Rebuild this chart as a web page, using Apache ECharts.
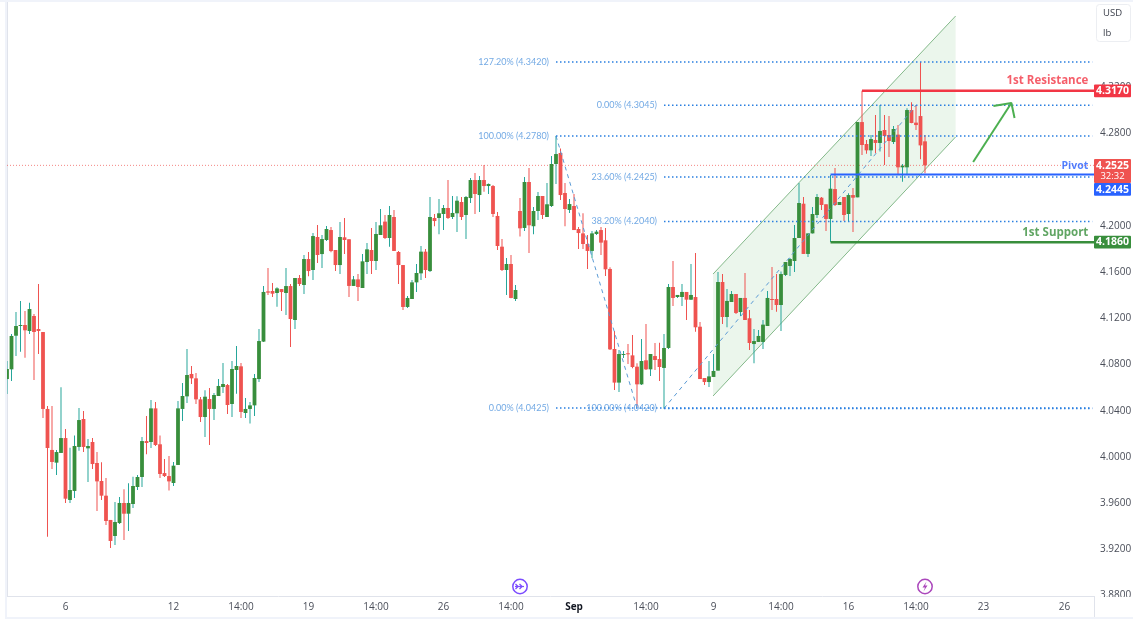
<!DOCTYPE html>
<html>
<head>
<meta charset="utf-8">
<style>
  html, body { margin: 0; padding: 0; background: #fff; }
  #chart { width: 1133px; height: 621px; }
</style>
<script src="https://cdn.jsdelivr.net/npm/echarts@6/dist/echarts.min.js"></script>
</head>
<body>
<div id="chart"></div>
<script>
// open, high, low, close
const candles = [
  [4.0675,4.0831,4.0545,4.0762],[4.0759,4.1065,4.0658,4.1048],[4.1050,4.1255,4.0874,4.1134],[4.1137,4.1351,4.0912,4.1143],
  [4.1143,4.1264,4.0860,4.1097],[4.1091,4.1336,4.1065,4.1281],[4.1221,4.1238,4.0667,4.1082],[4.1108,4.1498,4.0892,4.1091],
  [4.1082,4.1082,4.0338,4.0416],[4.0416,4.0442,3.9310,4.0078],[4.0061,4.0442,3.9896,3.9957],[3.9951,4.0061,3.9844,4.0043],
  [4.0035,4.0603,4.0035,4.0164],[4.0164,4.0242,3.9602,3.9639],[3.9628,4.0081,3.9602,3.9714],[3.9706,4.0187,3.9645,4.0095],
  [4.0087,4.0424,4.0055,4.0320],[4.0329,4.0398,4.0043,4.0087],[4.0075,4.0156,3.9784,4.0095],[4.0130,4.0164,3.9896,3.9939],
  [3.9948,4.0043,3.9532,3.9789],[3.9792,3.9954,3.9628,3.9665],[3.9665,3.9818,3.9411,3.9446],[3.9455,3.9455,3.9212,3.9273],
  [3.9316,3.9610,3.9238,3.9437],[3.9428,3.9654,3.9420,3.9602],[3.9602,3.9720,3.9281,3.9509],[3.9509,3.9772,3.9359,3.9602],
  [3.9593,3.9830,3.9558,3.9749],[3.9740,3.9844,3.9714,3.9827],[3.9827,4.0173,3.9740,4.0138],[4.0138,4.0355,4.0023,4.0121],
  [4.0130,4.0493,4.0078,4.0421],[4.0421,4.0476,4.0095,4.0104],[4.0110,4.0187,3.9818,3.9853],[3.9861,3.9983,3.9827,3.9835],
  [3.9835,4.0009,3.9711,3.9789],[3.9775,3.9957,3.9749,3.9925],[3.9931,4.0485,3.9931,4.0421],[4.0416,4.0641,4.0312,4.0528],
  [4.0525,4.0935,4.0467,4.0710],[4.0719,4.0788,4.0632,4.0681],[4.0681,4.0727,4.0459,4.0499],[4.0499,4.0519,4.0303,4.0346],
  [4.0346,4.0577,4.0173,4.0522],[4.0502,4.0597,4.0104,4.0416],[4.0416,4.0554,4.0320,4.0537],[4.0528,4.0675,4.0528,4.0615],
  [4.0606,4.0814,4.0554,4.0632],[4.0623,4.0632,4.0372,4.0450],[4.0459,4.0831,4.0346,4.0762],[4.0753,4.0961,4.0548,4.0788],
  [4.0785,4.0814,4.0338,4.0390],[4.0381,4.0511,4.0338,4.0416],[4.0416,4.0476,4.0289,4.0447],[4.0447,4.0719,4.0355,4.0684],
  [4.0675,4.1108,4.0649,4.1004],[4.0999,4.1480,4.0996,4.1429],[4.1434,4.1636,4.1403,4.1423],[4.1437,4.1506,4.1385,4.1414],
  [4.1420,4.1469,4.1301,4.1460],[4.1454,4.1454,4.1264,4.1428],[4.1420,4.1636,4.1229,4.1480],[4.1480,4.1498,4.0952,4.1195],
  [4.1186,4.1550,4.1108,4.1550],[4.1550,4.1576,4.1480,4.1498],[4.1489,4.1749,4.1411,4.1714],[4.1714,4.1775,4.1564,4.1610],
  [4.1619,4.1939,4.1532,4.1913],[4.1905,4.2009,4.1680,4.1749],[4.1757,4.1922,4.1636,4.1887],[4.1879,4.2000,4.1870,4.1974],
  [4.1965,4.1991,4.1772,4.1783],[4.1792,4.1792,4.1610,4.1662],[4.1662,4.2035,4.1584,4.1905],[4.1902,4.2069,4.1758,4.1879],
  [4.1885,4.1885,4.1385,4.1481],[4.1481,4.1567,4.1481,4.1538],[4.1538,4.1584,4.1351,4.1472],[4.1463,4.1758,4.1463,4.1694],
  [4.1688,4.1853,4.1584,4.1798],[4.1792,4.1983,4.1584,4.1697],[4.1697,4.2035,4.1619,4.1931],[4.1922,4.2147,4.1922,4.2006],
  [4.2038,4.2095,4.1887,4.1896],[4.1896,4.2173,4.1821,4.2095],[4.2078,4.2139,4.1784,4.1784],[4.1775,4.1784,4.1498,4.1662],
  [4.1662,4.1662,4.1273,4.1299],[4.1299,4.1394,4.1290,4.1377],[4.1368,4.1532,4.1368,4.1512],[4.1512,4.1671,4.1429,4.1593],
  [4.1590,4.1827,4.1532,4.1778],[4.1778,4.1801,4.1550,4.1619],[4.1610,4.2251,4.1602,4.2078],[4.2069,4.2104,4.1998,4.2043],
  [4.2069,4.2234,4.1928,4.2110],[4.2104,4.2182,4.1965,4.2156],[4.2156,4.2398,4.2061,4.2069],[4.2078,4.2260,4.2061,4.2113],
  [4.2110,4.2257,4.1948,4.2219],[4.2208,4.2251,4.2052,4.2078],[4.2095,4.2260,4.1887,4.2251],[4.2242,4.2416,4.2199,4.2398],
  [4.2398,4.2459,4.2104,4.2277],[4.2268,4.2433,4.2121,4.2398],[4.2398,4.2528,4.2297,4.2346],[4.2346,4.2369,4.2277,4.2364],
  [4.2346,4.2355,4.2078,4.2104],[4.2087,4.2121,4.1792,4.1827],[4.1821,4.1887,4.1610,4.1619],[4.1619,4.1723,4.1403,4.1671],
  [4.1671,4.1749,4.1374,4.1377],[4.1368,4.1489,4.1351,4.1446],[4.2130,4.2242,4.1908,4.1980],[4.1983,4.2424,4.1957,4.2381],
  [4.2381,4.2502,4.1766,4.2006],[4.1998,4.2164,4.1928,4.2130],[4.2130,4.2294,4.2052,4.2260],[4.2260,4.2260,4.2061,4.2095],
  [4.2078,4.2372,4.2078,4.2188],[4.2173,4.2606,4.2164,4.2537],[4.2537,4.2780,4.2364,4.2623],[4.2632,4.2670,4.2225,4.2268],
  [4.2286,4.2372,4.1998,4.2147],[4.2139,4.2234,4.2113,4.2190],[4.2173,4.2277,4.1965,4.1965],[4.1974,4.1991,4.1801,4.1939],
  [4.1936,4.2110,4.1801,4.1844],[4.1844,4.1922,4.1628,4.1784],[4.1784,4.1957,4.1720,4.1936],[4.1931,4.1965,4.1922,4.1951],
  [4.1965,4.1991,4.1749,4.1856],[4.1876,4.1983,4.1567,4.1625],[4.1628,4.1642,4.0926,4.0932],[4.0935,4.1091,4.0580,4.0644],
  [4.0644,4.0926,4.0563,4.0892],[4.0886,4.0918,4.0857,4.0892],[4.0898,4.0978,4.0805,4.0892],[4.0880,4.1056,4.0768,4.0779],
  [4.0782,4.0811,4.0436,4.0629],[4.0629,4.1022,4.0623,4.0831],[4.0837,4.1151,4.0753,4.0759],[4.0759,4.0892,4.0701,4.0892],
  [4.0874,4.0987,4.0753,4.0840],[4.0848,4.0990,4.0658,4.0779],[4.0771,4.1065,4.0420,4.0944],[4.0944,4.1498,4.0935,4.1472],
  [4.1472,4.1697,4.1307,4.1377],[4.1385,4.1403,4.1377,4.1403],[4.1385,4.1498,4.1307,4.1429],[4.1429,4.1429,4.1186,4.1362],
  [4.1362,4.1671,4.1359,4.1403],[4.1385,4.1766,4.1085,4.1123],[4.1128,4.1169,4.0675,4.0675],[4.0684,4.0684,4.0623,4.0649],
  [4.0649,4.0831,4.0606,4.0698],[4.0693,4.0892,4.0693,4.0745],[4.0748,4.1602,4.0748,4.1515],[4.1515,4.1584,4.1151,4.1212],
  [4.1212,4.1455,4.1123,4.1351],[4.1342,4.1437,4.1342,4.1411],[4.1411,4.1411,4.1238,4.1247],[4.1255,4.1377,4.1221,4.1377],
  [4.1377,4.1593,4.1186,4.1186],[4.1201,4.1273,4.0926,4.0987],[4.0978,4.1108,4.0811,4.1004],[4.0996,4.1100,4.0996,4.1048],
  [4.0996,4.1186,4.0935,4.1146],[4.1134,4.1437,4.1134,4.1377],[4.1368,4.1645,4.1273,4.1362],[4.1368,4.1584,4.1258,4.1316],
  [4.1316,4.1605,4.1091,4.1584],[4.1576,4.1688,4.1567,4.1688],[4.1654,4.1723,4.1567,4.1714],[4.1697,4.2009,4.1602,4.1896],
  [4.1896,4.2372,4.1896,4.2199],[4.2193,4.2251,4.1758,4.1758],[4.1758,4.1936,4.1732,4.1936],[4.1936,4.2164,4.1936,4.2104],
  [4.2095,4.2277,4.2069,4.2251],[4.2245,4.2251,4.2139,4.2182],[4.2188,4.2188,4.1957,4.2061],[4.2061,4.2442,4.1861,4.2323],
  [4.2320,4.2502,4.2173,4.2182],[4.2182,4.2208,4.2182,4.2208],[4.2251,4.2251,4.2043,4.2095],[4.2104,4.2283,4.2043,4.2268],
  [4.2268,4.2329,4.1948,4.2245],[4.2248,4.2900,4.2248,4.2900],[4.2900,4.3172,4.2615,4.2701],[4.2710,4.2745,4.2626,4.2655],
  [4.2655,4.2788,4.2606,4.2753],[4.2745,4.2961,4.2629,4.2719],[4.2719,4.3048,4.2644,4.2823],[4.2831,4.2961,4.2528,4.2779],
  [4.2788,4.2952,4.2597,4.2736],[4.2727,4.2866,4.2710,4.2840],[4.2791,4.2874,4.2442,4.2508],[4.2508,4.2537,4.2384,4.2522],
  [4.2508,4.3019,4.2442,4.3004],[4.3004,4.3071,4.2889,4.2892],[4.2895,4.3048,4.2831,4.2874],[4.2952,4.3420,4.2577,4.2698],
  [4.2733,4.2788,4.2456,4.2525]
];

const timeTicks = [13, 37, 52, 67, 82, 97, 112, 126, 142, 157, 172, 187, 202, 217, 235];
const timeLabels = ['6', '12', '14:00', '19', '14:00', '26', '14:00', 'Sep', '14:00', '9', '14:00', '16', '14:00', '23', '26'];
const priceTicks = [3.88, 3.92, 3.96, 4.00, 4.04, 4.08, 4.12, 4.16, 4.20, 4.24, 4.28, 4.32];

const fibPrices = [4.3420, 4.2780, 4.0425, 4.3045, 4.2425, 4.2040, 4.0420];
const fibStarts = [122, 122, 122, 146, 146, 146, 146];
const fibTexts = ['127.20% (4.3420)', '100.00% (4.2780)', '0.00% (4.0425)', '0.00% (4.3045)', '23.60% (4.2425)', '38.20% (4.2040)', '100.00% (4.0420)'];

const drop = [[122, 4.2780], [140, 4.0425]];
const rise = [[146, 4.0420], [202, 4.3045]];
const channel = [[156.9, 4.1584], [210.8, 4.3818], [210.8, 4.2771], [156.9, 4.0528]];
const arrowShaft = [[214.7, 4.2554], [223.2, 4.3065]];
const arrowHead = [[219.2, 4.3039], [223.2, 4.3065], [223.9, 4.2935]];

const lastPrice = 4.2525;
const countdown = '32:32';
const resistance = 4.3170;
const pivot = 4.2445;
const support = 4.1860;
const resistanceStart = 190;
const levelStart = 183;

const UP = '#388e3c', UP_WICK = '#26a69a', DOWN = '#ef5350';
const RED = '#f23645', BLUE = '#2962ff', GREEN = '#388e3c';
const FIB = '#2a7fe0', FIB_TEXT = '#4f94dd';
const FONT = '"Open Sans", "Noto Sans", sans-serif';
const X_MAX = 241.556, BODY_W = 3.8;

const chart = echarts.init(document.getElementById('chart'));

function lineSeries(data, color, width, type, z) {
    return {
        type: 'line', data: data, symbol: 'none', silent: true, z: z || 4,
        animation: false,
        lineStyle: { color: color, width: width, type: type || 'solid', cap: 'butt' }
    };
}

function renderCandle(params, api) {
    const o = api.value(1), h = api.value(2), l = api.value(3), c = api.value(4);
    const i = api.value(0);
    const up = c >= o;
    const top = api.coord([i, Math.max(o, c)]);
    const bot = api.coord([i, Math.min(o, c)]);
    const hi = api.coord([i, h]);
    const lo = api.coord([i, l]);
    const x = top[0];
    return {
        type: 'group',
        children: [
            { type: 'rect', shape: { x: x - 0.5, y: hi[1], width: 1, height: lo[1] - hi[1] }, style: { fill: up ? UP_WICK : DOWN } },
            { type: 'rect', shape: { x: x - BODY_W / 2, y: top[1], width: BODY_W, height: Math.max(bot[1] - top[1], 1) }, style: { fill: up ? UP : DOWN } }
        ]
    };
}

function renderChannel(params, api) {
    const pts = channel.map(p => api.coord(p));
    const edge = { stroke: '#84b98a', lineWidth: 1, fill: null };
    return {
        type: 'group',
        children: [
            { type: 'polygon', shape: { points: pts }, style: { fill: 'rgba(76,175,80,0.11)' } },
            { type: 'line', shape: { x1: pts[0][0], y1: pts[0][1], x2: pts[1][0], y2: pts[1][1] }, style: edge },
            { type: 'line', shape: { x1: pts[3][0], y1: pts[3][1], x2: pts[2][0], y2: pts[2][1] }, style: edge }
        ]
    };
}

// price tags on the scale
const tagPrices = [resistance, lastPrice, pivot, support];
const tagColors = [RED, DOWN, BLUE, GREEN];
function renderTag(params, api) {
    const i = params.dataIndex;
    const p = api.coord([X_MAX, api.value(0)]);
    const text = { fill: '#fff', align: 'center', verticalAlign: 'middle', font: 'bold 10.5px ' + FONT };
    const cx = p[0] + 18.5;
    let y = p[1] - 6.4, h = 12.8;
    const kids = [];
    if (i === 1) { h = 24; }
    if (i === 2) { y = p[1] + 8.4; }
    kids.push({ type: 'rect', shape: { x: p[0], y: y, width: 37, height: h, r: 1 }, style: { fill: tagColors[i] } });
    kids.push({ type: 'text', style: Object.assign({}, text, { x: cx, y: y + 6.6, text: api.value(0).toFixed(4) }) });
    if (i === 1) {
        kids.push({ type: 'text', style: Object.assign({}, text, { x: cx, y: y + 17.8, text: countdown, font: '9.5px ' + FONT }) });
    }
    return { type: 'group', children: kids };
}

const levelLabel = { show: true, position: 'left', distance: 0, fontSize: 11.5, fontWeight: 'bold', fontFamily: FONT };

const series = [
    { type: 'custom', renderItem: renderChannel, data: [[0, 0]], silent: true, z: 1, animation: false },
    {
        type: 'custom', renderItem: renderCandle, silent: true, z: 3, animation: false,
        encode: { x: 0, y: [1, 2, 3, 4] },
        data: candles.map((c, i) => [i, c[0], c[1], c[2], c[3]])
    },
    lineSeries(drop, '#5b9bd5', 1, [4, 4], 4),
    lineSeries(rise, '#5b9bd5', 1, [4, 4], 4),
    lineSeries([[0, lastPrice], [X_MAX, lastPrice]], 'rgba(239,83,80,0.7)', 1, [1, 2], 2),
    lineSeries([[resistanceStart, resistance], [X_MAX, resistance]], RED, 2.5, 'solid', 5),
    lineSeries([[levelStart, pivot], [X_MAX, pivot]], BLUE, 2, 'solid', 5),
    lineSeries([[levelStart, support], [X_MAX, support]], GREEN, 2.5, 'solid', 5),
    lineSeries(arrowShaft, '#4caf50', 2, 'solid', 5),
    lineSeries(arrowHead, '#4caf50', 2, 'solid', 5),
    {
        type: 'scatter', symbolSize: 0, silent: true, z: 6, animation: false,
        data: fibPrices.map((p, i) => ({
            value: [fibStarts[i], p],
            label: { show: true, position: 'left', distance: 7, formatter: fibTexts[i], color: FIB_TEXT, fontSize: 9, fontFamily: 'Lato, "Open Sans", sans-serif' }
        })).concat([
            { value: [240.3, resistance], label: Object.assign({}, levelLabel, { offset: [0, -10], formatter: '1st Resistance', color: RED }) },
            { value: [240.3, pivot], label: Object.assign({}, levelLabel, { offset: [0, -9], formatter: 'Pivot', color: BLUE, fontSize: 10.5 }) },
            { value: [240.3, support], label: Object.assign({}, levelLabel, { offset: [0, -9], formatter: '1st Support', color: GREEN }) }
        ])
    },
    { type: 'custom', renderItem: renderTag, data: tagPrices.map(p => [p]), encode: { y: 0 }, silent: true, z: 10, animation: false }
];

fibPrices.forEach((p, i) => {
    series.push(lineSeries([[fibStarts[i], p], [X_MAX - 0.4, p]], FIB, 1.5, [1.5, 2.5], 4));
});

const frame = '#e0e3eb';
const graphic = [
    // chart frame
    { type: 'rect', z: 20, shape: { x: 0, y: 0, width: 1133, height: 2 }, style: { fill: '#f0f3fa' } },
    { type: 'rect', z: 20, shape: { x: 5, y: 0, width: 2, height: 618 }, style: { fill: '#f0f3fa' } },
    { type: 'rect', z: 20, shape: { x: 5, y: 617, width: 1128, height: 2 }, style: { fill: '#f0f3fa' } },
    { type: 'rect', z: 20, shape: { x: 1095, y: 597, width: 38, height: 20 }, style: { fill: '#fff' } },
    { type: 'line', z: 21, shape: { x1: 1094.5, y1: 596, x2: 1094.5, y2: 617 }, style: { stroke: frame, lineWidth: 1 } },
    // currency and unit box
    { type: 'rect', z: 20, shape: { x: 1096.5, y: 4.5, width: 34, height: 37, r: 3 }, style: { fill: '#fff', stroke: '#eceef2', lineWidth: 1 } },
    { type: 'text', z: 21, style: { x: 1103, y: 13, text: 'USD', fill: '#3a3e49', font: '9.5px ' + FONT, verticalAlign: 'middle' } },
    { type: 'text', z: 21, style: { x: 1103, y: 33, text: 'lb', fill: '#3a3e49', font: '9.5px ' + FONT, verticalAlign: 'middle' } },
    // event markers above the time scale
    { type: 'circle', z: 20, shape: { cx: 520, cy: 586.5, r: 7.2 }, style: { fill: '#fff', stroke: '#7c4dff', lineWidth: 1.5 } },
    { type: 'polyline', z: 21, shape: { points: [[515.5, 584], [518, 586.5], [515.5, 589]] }, style: { fill: null, stroke: '#7c4dff', lineWidth: 1.3 } },
    { type: 'polyline', z: 21, shape: { points: [[519.5, 584], [522, 586.5], [519.5, 589]] }, style: { fill: null, stroke: '#7c4dff', lineWidth: 1.3 } },
    { type: 'line', z: 21, shape: { x1: 515, y1: 586.5, x2: 524, y2: 586.5 }, style: { stroke: '#7c4dff', lineWidth: 1.2 } },
    { type: 'circle', z: 20, shape: { cx: 925, cy: 586.5, r: 7.2 }, style: { fill: '#fff', stroke: '#ab47bc', lineWidth: 1.5 } },
    { type: 'polygon', z: 21, shape: { points: [[926.5, 581.5], [922.5, 587.5], [925, 587.5], [923.5, 591.5], [927.5, 585.5], [925, 585.5]] }, style: { fill: '#ab47bc' } }
];

chart.setOption({
    backgroundColor: '#fff',
    animation: false,
    grid: { left: 7, right: 39, top: 2, bottom: 25, outerBoundsMode: 'none' },
    graphic: graphic,
    xAxis: {
        type: 'value', min: 0, max: X_MAX,
        splitLine: { show: false },
        axisLine: { show: true, onZero: false, lineStyle: { color: frame } },
        axisTick: { show: false },
        axisLabel: {
            customValues: timeTicks,
            margin: 6,
            color: '#4a4e59',
            fontSize: 10,
            fontFamily: FONT,
            formatter: v => {
                const t = timeLabels[timeTicks.indexOf(v)];
                return t === 'Sep' ? '{b|Sep}' : t;
            },
            rich: { b: { fontWeight: 'bold', color: '#131722', fontSize: 10, fontFamily: FONT } }
        }
    },
    yAxis: {
        type: 'value', position: 'right', min: 3.87965, max: 4.39394,
        splitLine: { show: false },
        axisLine: { show: true, lineStyle: { color: frame } },
        axisTick: { show: false },
        axisLabel: {
            customValues: priceTicks,
            margin: 6,
            align: 'left',
            padding: [2, 0, 0, 0],
            color: '#4a4e59',
            fontSize: 10,
            fontFamily: FONT,
            formatter: v => v.toFixed(4)
        }
    },
    series: series
});
</script>
</body>
</html>
